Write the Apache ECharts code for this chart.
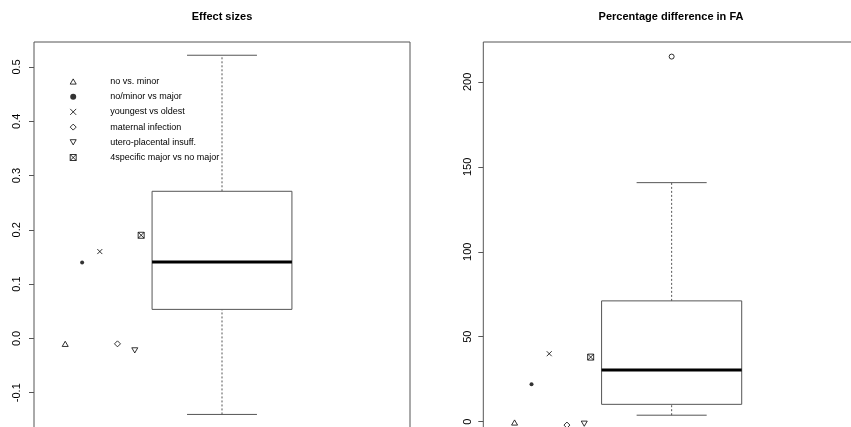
<!DOCTYPE html>
<html>
<head>
<meta charset="utf-8">
<script src="https://cdn.jsdelivr.net/npm/echarts@6/dist/echarts.min.js"></script>
<style>
  html, body { margin: 0; padding: 0; background: #fff; }
  #chart { width: 851px; height: 427px; }
</style>
</head>
<body>
<div id="chart"></div>
<script>
// Comparison groups shown as individual points beside each box
const groups = [
  'no vs. minor',
  'no/minor vs major',
  'youngest vs oldest',
  'maternal infection',
  'utero-placental insuff.',
  '4specific major vs no major'
];
// Horizontal placement of each group's point (x axis runs 0.5 .. 1.5)
const pointX = [0.583, 0.628, 0.675, 0.722, 0.768, 0.785];
// Effect size per group
const effectSize = [-0.01, 0.14, 0.16, -0.01, -0.022, 0.19];
// Percentage difference in FA per group
const pctDiff = [-0.5, 22, 40, -2, -1.2, 38];

// Box summaries: [lower whisker, Q1, median, Q3, upper whisker]
const effectBox = [-0.14, 0.0535, 0.1407, 0.271, 0.5216];
const pctBox = [3.8, 10.2, 30.4, 71.1, 140.7];
const pctOutliers = [214.9];

// Axis tick values
const effectTicks = [-0.1, 0.0, 0.1, 0.2, 0.3, 0.4, 0.5];
const pctTicks = [0, 50, 100, 150, 200];

const FONT = 'Liberation Sans, Arial, sans-serif';
const FRAME = '#555';

// R-style plotting characters
const SYMBOLS = [
  'path://M5,0L10,8.66L0,8.66Z',                         // open triangle
  'circle',                                              // solid dot
  'path://M0,0L10,10M10,0L0,10',                         // cross
  'path://M5,0L10,5L5,10L0,5Z',                          // open diamond
  'path://M0,0L10,0L5,8.66Z',                            // open down-triangle
  'path://M0,0L10,0L10,10L0,10ZM0,0L10,10M10,0L0,10'     // boxed cross
];
const SYMBOL_SIZE = [6, 4, 5, 6, 6, 6];
const FILLED = [false, true, false, false, false, false];

function styleFor(i) {
  return FILLED[i]
    ? { color: '#000', borderColor: '#000', borderWidth: 0 }
    : { color: 'rgba(0,0,0,0)', borderColor: '#000', borderWidth: 1 };
}

// Box-and-whisker drawn with dashed whiskers and a heavy median
function boxRenderer(params, api) {
  const x = api.value(0);
  const lo = api.value(1), q1 = api.value(2), med = api.value(3),
        q3 = api.value(4), hi = api.value(5);
  const halfBox = 0.186, halfCap = 0.093;
  const pLo = api.coord([x, lo]), pQ1 = api.coord([x, q1]),
        pQ3 = api.coord([x, q3]), pHi = api.coord([x, hi]);
  const boxL = api.coord([x - halfBox, q3]);
  const boxR = api.coord([x + halfBox, q1]);
  const capL = api.coord([x - halfCap, lo])[0];
  const capR = api.coord([x + halfCap, lo])[0];
  const medL = api.coord([x - halfBox, med]);
  const medR = api.coord([x + halfBox, med]);
  const line = { stroke: FRAME, lineWidth: 1 };
  const dash = { stroke: FRAME, lineWidth: 1, lineDash: [2, 2] };
  return {
    type: 'group',
    children: [
      { type: 'line', shape: { x1: pQ3[0], y1: pQ3[1], x2: pHi[0], y2: pHi[1] }, style: dash },
      { type: 'line', shape: { x1: pLo[0], y1: pLo[1], x2: pQ1[0], y2: pQ1[1] }, style: dash },
      { type: 'line', shape: { x1: capL, y1: pHi[1], x2: capR, y2: pHi[1] }, style: line },
      { type: 'line', shape: { x1: capL, y1: pLo[1], x2: capR, y2: pLo[1] }, style: line },
      { type: 'rect', shape: { x: boxL[0], y: boxL[1], width: boxR[0] - boxL[0], height: boxR[1] - boxL[1] },
        style: { fill: '#fff', stroke: FRAME, lineWidth: 1 } },
      { type: 'line', shape: { x1: medL[0], y1: medL[1], x2: medR[0], y2: medR[1] },
        style: { stroke: '#000', lineWidth: 3 } }
    ]
  };
}

function yAxisFor(gridIndex, min, max, ticks, fmt, margin) {
  return {
    type: 'value', gridIndex, min, max,
    splitLine: { show: false },
    axisLine: { show: false },
    axisTick: { show: true, inside: false, length: 5, customValues: ticks,
                lineStyle: { color: FRAME, width: 1 } },
    axisLabel: { show: true, customValues: ticks, rotate: 90, margin,
                 formatter: fmt, color: '#000', fontSize: 11, fontFamily: FONT }
  };
}

const series = [];
[[0, effectSize], [1, pctDiff]].forEach(([g, vals]) => {
  groups.forEach((name, i) => {
    series.push({
      type: 'scatter', name, xAxisIndex: g, yAxisIndex: g,
      symbol: SYMBOLS[i], symbolSize: SYMBOL_SIZE[i], symbolKeepAspect: true,
      itemStyle: styleFor(i),
      emphasis: { disabled: true },
      data: [[pointX[i], vals[i]]], z: 5
    });
  });
});
series.push({
  type: 'custom', xAxisIndex: 0, yAxisIndex: 0, renderItem: boxRenderer,
  data: [[1].concat(effectBox)], z: 3, silent: true
});
series.push({
  type: 'custom', xAxisIndex: 1, yAxisIndex: 1, renderItem: boxRenderer,
  data: [[1].concat(pctBox)], z: 3, silent: true
});
series.push({
  type: 'scatter', xAxisIndex: 1, yAxisIndex: 1,
  symbol: 'circle', symbolSize: 5,
  itemStyle: { color: 'rgba(0,0,0,0)', borderColor: '#000', borderWidth: 1 },
  data: pctOutliers.map(v => [1, v]), z: 5, silent: true
});

const option = {
  animation: false,
  backgroundColor: '#fff',
  title: [
    { text: 'Effect sizes', left: 222, top: 11, textAlign: 'center', padding: 0,
      textStyle: { fontSize: 11, fontWeight: 'bold', fontFamily: FONT, color: '#000' } },
    { text: 'Percentage difference in FA', left: 671, top: 11, textAlign: 'center', padding: 0,
      textStyle: { fontSize: 11, fontWeight: 'bold', fontFamily: FONT, color: '#000' } }
  ],
  legend: {
    orient: 'vertical', left: 69.7, top: 74, padding: 0,
    itemWidth: 6, itemHeight: 6, itemGap: 0.2,
    selectedMode: false,
    data: groups.map((name, i) => ({
      name, icon: SYMBOLS[i], itemStyle: styleFor(i)
    })),
    textStyle: { fontSize: 9, fontFamily: FONT, color: '#000', lineHeight: 15,
                 padding: [0, 0, 0, 29] }
  },
  grid: [
    { left: 34, top: 42, width: 376, height: 386, show: true, outerBoundsMode: 'none',
      borderColor: FRAME, borderWidth: 1, backgroundColor: '#fff' },
    { left: 483.3, top: 42, width: 376.7, height: 387.3, show: true, outerBoundsMode: 'none',
      borderColor: FRAME, borderWidth: 1, backgroundColor: '#fff' }
  ],
  xAxis: [
    { type: 'value', gridIndex: 0, min: 0.5, max: 1.5, show: false },
    { type: 'value', gridIndex: 1, min: 0.5, max: 1.5, show: false }
  ],
  yAxis: [
    yAxisFor(0, -0.165, 0.546, effectTicks, v => v.toFixed(1), 12),
    yAxisFor(1, -4.5, 223.5, pctTicks, v => String(Math.round(v)), 10)
  ],
  series
};

const chart = echarts.init(document.getElementById('chart'), null, { renderer: 'canvas' });
chart.setOption(option);
</script>
</body>
</html>
